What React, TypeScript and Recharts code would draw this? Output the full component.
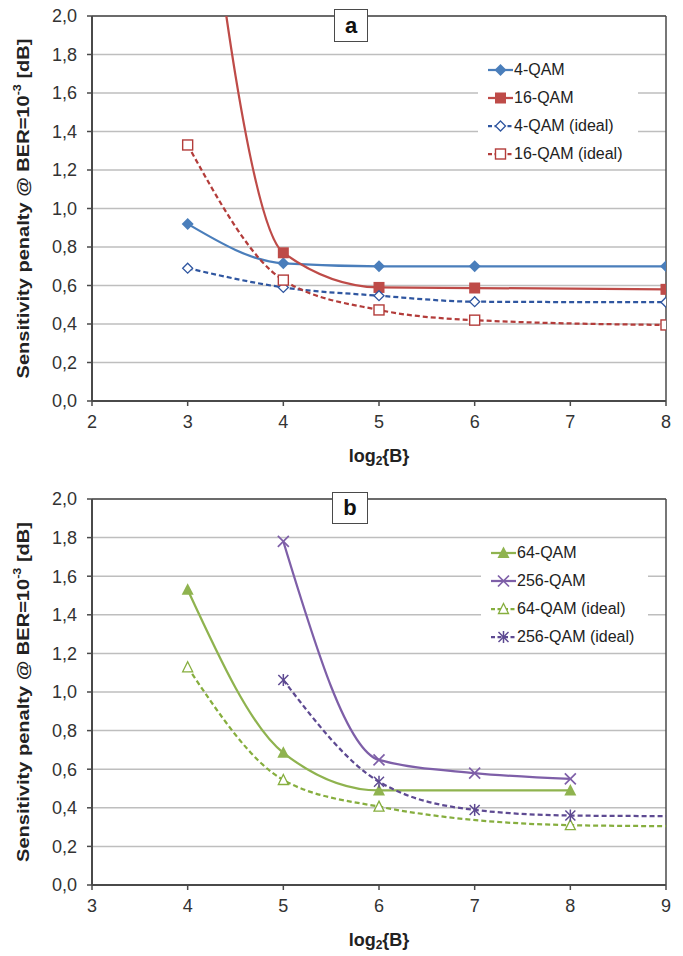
import React from 'react'
import { LineChart, Line, XAxis, YAxis, CartesianGrid, ReferenceLine, Legend } from 'recharts'

const yTicks = [0, 0.2, 0.4, 0.6, 0.8, 1.0, 1.2, 1.4, 1.6, 1.8, 2.0]
const xTicksA = [2, 3, 4, 5, 6, 7, 8]
const xTicksB = [3, 4, 5, 6, 7, 8, 9]

// panel a
const qam4 = [{ x: 3, y: 0.92 }, { x: 4, y: 0.715 }, { x: 5, y: 0.70 }, { x: 6, y: 0.70 }, { x: 8, y: 0.70 }]
const qam16 = [{ x: 3, y: 3.5 }, { x: 4, y: 0.77 }, { x: 5, y: 0.59 }, { x: 6, y: 0.587 }, { x: 8, y: 0.58 }]
const qam4Ideal = [{ x: 3, y: 0.69 }, { x: 4, y: 0.59 }, { x: 5, y: 0.547 }, { x: 6, y: 0.516 }, { x: 8, y: 0.513 }]
const qam16Ideal = [{ x: 3, y: 1.33 }, { x: 4, y: 0.628 }, { x: 5, y: 0.473 }, { x: 6, y: 0.42 }, { x: 8, y: 0.395 }]

// panel b (ideal curves run on to 9 without a marker)
const qam64 = [{ x: 4, y: 1.53 }, { x: 5, y: 0.685 }, { x: 6, y: 0.49 }, { x: 8, y: 0.49 }]
const qam256 = [{ x: 5, y: 1.78 }, { x: 6, y: 0.648 }, { x: 7, y: 0.58 }, { x: 8, y: 0.55 }]
const qam64Ideal = [{ x: 4, y: 1.128 }, { x: 5, y: 0.544 }, { x: 6, y: 0.406 }, { x: 8, y: 0.31 }, { x: 9, y: 0.305 }]
const qam256Ideal = [{ x: 5, y: 1.062 }, { x: 6, y: 0.535 }, { x: 7, y: 0.389 }, { x: 8, y: 0.36 }, { x: 9, y: 0.357 }]

type Kind = 'diamond' | 'diamondOpen' | 'square' | 'squareOpen' | 'triangle' | 'triangleOpen' | 'cross' | 'star'
type Series = { name: string; data: { x: number; y: number }[]; color: string; dashed: boolean; marker: Kind }

const seriesA: Series[] = [
  { name: '4-QAM', data: qam4, color: '#4A7EBB', dashed: false, marker: 'diamond' },
  { name: '16-QAM', data: qam16, color: '#BE4B48', dashed: false, marker: 'square' },
  { name: '4-QAM (ideal)', data: qam4Ideal, color: '#2F56A0', dashed: true, marker: 'diamondOpen' },
  { name: '16-QAM (ideal)', data: qam16Ideal, color: '#B33C3A', dashed: true, marker: 'squareOpen' },
]
const seriesB: Series[] = [
  { name: '64-QAM', data: qam64, color: '#8FB34F', dashed: false, marker: 'triangle' },
  { name: '256-QAM', data: qam256, color: '#7E5FA8', dashed: false, marker: 'cross' },
  { name: '64-QAM (ideal)', data: qam64Ideal, color: '#86AE3E', dashed: true, marker: 'triangleOpen' },
  { name: '256-QAM (ideal)', data: qam256Ideal, color: '#5E4A92', dashed: true, marker: 'star' },
]

const FONT = '"Liberation Sans", Arial, sans-serif'
const AXIS = '#4a4a4a'

const Marker = ({ kind, cx, cy, color }: { kind: Kind; cx: number; cy: number; color: string }) => {
  switch (kind) {
    case 'diamond':
      return <polygon points={`${cx},${cy - 6} ${cx + 6},${cy} ${cx},${cy + 6} ${cx - 6},${cy}`} fill={color} />
    case 'diamondOpen':
      return <polygon points={`${cx},${cy - 5} ${cx + 5},${cy} ${cx},${cy + 5} ${cx - 5},${cy}`} fill="#fff" stroke={color} strokeWidth={1.3} />
    case 'square':
      return <rect x={cx - 5.5} y={cy - 5.5} width={11} height={11} fill={color} />
    case 'squareOpen':
      return <rect x={cx - 5} y={cy - 5} width={10} height={10} fill="#fff" stroke={color} strokeWidth={1.4} />
    case 'triangle':
      return <polygon points={`${cx},${cy - 6.5} ${cx + 6},${cy + 5} ${cx - 6},${cy + 5}`} fill={color} />
    case 'triangleOpen':
      return <polygon points={`${cx},${cy - 5.5} ${cx + 5},${cy + 4.5} ${cx - 5},${cy + 4.5}`} fill="#fff" stroke={color} strokeWidth={1.3} />
    case 'cross':
      return (
        <g stroke={color} strokeWidth={1.7}>
          <line x1={cx - 5.5} y1={cy - 5.5} x2={cx + 5.5} y2={cy + 5.5} />
          <line x1={cx - 5.5} y1={cy + 5.5} x2={cx + 5.5} y2={cy - 5.5} />
        </g>
      )
    default:
      return (
        <g stroke={color} strokeWidth={1.5}>
          <line x1={cx - 5} y1={cy - 5} x2={cx + 5} y2={cy + 5} />
          <line x1={cx - 5} y1={cy + 5} x2={cx + 5} y2={cy - 5} />
          <line x1={cx} y1={cy - 6} x2={cx} y2={cy + 6} />
        </g>
      )
  }
}

const makeDot = (s: Series, maxX: number) => (p: any) => {
  const k = `${s.name}-${p.index}`
  if (p.cx == null || p.cy == null || p.payload.x > maxX) return <g key={k} />
  return <g key={k}><Marker kind={s.marker} cx={p.cx} cy={p.cy} color={s.color} /></g>
}

const LegendBox = ({ series, width }: { series: Series[]; width: number }) => (
  <div style={{ background: '#fff', width, paddingLeft: 10, boxSizing: 'border-box' }}>
    {series.map((s) => (
      <div key={s.name} style={{ height: 28, display: 'flex', alignItems: 'center' }}>
        <svg width={25} height={14} style={{ display: 'block' }}>
          <line x1={0} y1={7} x2={25} y2={7} stroke={s.color} strokeWidth={2.25} strokeDasharray={s.dashed ? '4 2.5' : undefined} />
          <Marker kind={s.marker} cx={12.5} cy={7} color={s.color} />
        </svg>
        <span style={{ fontFamily: FONT, fontSize: 16, color: '#222', marginLeft: 1, whiteSpace: 'nowrap' }}>{s.name}</span>
      </div>
    ))}
  </div>
)

const YTitle = (props: any) => {
  const vb = props.viewBox
  const cy = vb.y + vb.height / 2
  return (
    <text transform={`translate(23, ${cy}) rotate(-90)`} textAnchor="middle" dominantBaseline="central"
      fontFamily={FONT} fontWeight="bold" fontSize={16} fill="#222" textLength={340} lengthAdjust="spacingAndGlyphs">
      Sensitivity penalty @ BER=10<tspan dy={-6} fontSize={10}>-3</tspan><tspan dy={6}> [dB]</tspan>
    </text>
  )
}

const XTitle = (props: any) => {
  const vb = props.viewBox
  return (
    <text x={vb.x + vb.width / 2} y={vb.y + 55} textAnchor="middle" dominantBaseline="central"
      fontFamily={FONT} fontWeight="bold" fontSize={18} fill="#222">
      log<tspan dy={5} fontSize={12}>2</tspan><tspan dy={-5}>{'{B}'}</tspan>
    </text>
  )
}

const fmt = (v: number) => v.toFixed(1).replace('.', ',')
const tickStyle = { fontFamily: FONT, fontSize: 18, fill: '#333' }

const Panel = ({ series, xTicks, height, top, legendTop, legendLeft, legendWidth, tag, tagBox }: {
  series: Series[]; xTicks: number[]; height: number; top: number; legendTop: number; legendLeft: number; legendWidth: number
  tag: string; tagBox: { left: number; top: number; width: number; height: number }
}) => (
  <div style={{ position: 'absolute', left: 0, top, width: 683, height }}>
    <LineChart width={683} height={height} margin={{ top: height === 470 ? 16 : 29, right: 17, bottom: height === 470 ? 9 : 11, left: 0 }}>
      <CartesianGrid vertical={false} stroke="#BEBEBE" strokeWidth={1.5} />
      <XAxis type="number" dataKey="x" domain={[xTicks[0], xTicks[xTicks.length - 1]]} ticks={xTicks} height={60}
        tick={tickStyle} tickSize={5} tickMargin={9} axisLine={{ stroke: AXIS, strokeWidth: 2 }} tickLine={{ stroke: AXIS, strokeWidth: 1.5 }}
        label={{ content: XTitle }} allowDataOverflow />
      <YAxis type="number" domain={[0, 2]} ticks={yTicks} width={92} tickFormatter={fmt} tick={tickStyle} tickSize={5} tickMargin={10}
        axisLine={{ stroke: AXIS, strokeWidth: 2 }} tickLine={{ stroke: AXIS, strokeWidth: 1.5 }} allowDataOverflow
        label={{ content: YTitle }} />
      <ReferenceLine y={2} stroke={AXIS} strokeWidth={1.5} />
      <ReferenceLine x={xTicks[xTicks.length - 1]} stroke={AXIS} strokeWidth={1.5} />
      {series.map((s) => (
        <Line key={s.name} data={s.data} dataKey="y" name={s.name} type="monotone" stroke={s.color} strokeWidth={2.25}
          strokeDasharray={s.dashed ? '5 3' : undefined} dot={makeDot(s, 8)} activeDot={false} isAnimationActive={false} />
      ))}
      <Legend layout="horizontal" verticalAlign="middle" align="center"
        wrapperStyle={{ left: legendLeft, top: legendTop, width: legendWidth, height: 114 }}
        content={() => <LegendBox series={series} width={legendWidth} />} />
    </LineChart>
    <div style={{
      position: 'absolute', left: tagBox.left, top: tagBox.top, width: tagBox.width, height: tagBox.height, boxSizing: 'border-box',
      border: `1.5px solid ${AXIS}`, background: '#fff', display: 'flex', alignItems: 'center', justifyContent: 'center',
      fontFamily: FONT, fontWeight: 'bold', fontSize: 22, color: '#111',
    }}>{tag}</div>
  </div>
)

export default function App() {
  return (
    <div style={{ position: 'relative', width: 683, height: 956, margin: '-8px 0 0 -8px', background: '#fff' }}>
      <Panel series={seriesA} xTicks={xTicksA} height={470} top={0} legendTop={56} legendLeft={478} legendWidth={160}
        tag="a" tagBox={{ left: 334, top: 9, width: 34, height: 33 }} />
      <Panel series={seriesB} xTicks={xTicksB} height={486} top={470} legendTop={69} legendLeft={481} legendWidth={167}
        tag="b" tagBox={{ left: 332, top: 22, width: 36, height: 32 }} />
    </div>
  )
}
